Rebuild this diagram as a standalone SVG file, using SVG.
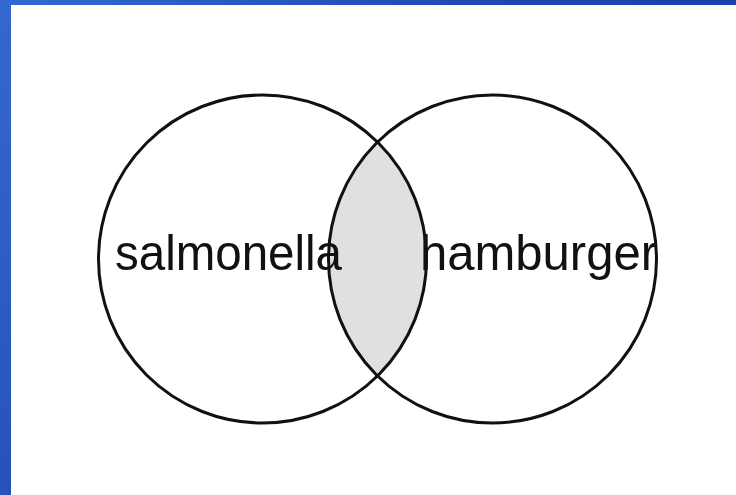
<svg xmlns="http://www.w3.org/2000/svg" width="736" height="495" viewBox="0 0 736 495">
<defs>
<linearGradient id="bg" gradientUnits="userSpaceOnUse" x1="0" y1="0" x2="736" y2="495">
<stop offset="0" stop-color="#3569cf"/>
<stop offset="0.5" stop-color="#1d44b2"/>
<stop offset="1" stop-color="#1a3aa8"/>
</linearGradient>
<clipPath id="clipL"><circle cx="262.5" cy="259" r="164"/></clipPath>
</defs>
<style>
.ring{fill:none;stroke:#111;stroke-width:3}
.lbl{font-family:"Liberation Sans",Arial,sans-serif;font-size:50px;fill:#111}
</style>
<rect x="0" y="0" width="736" height="495" fill="url(#bg)"/>
<rect x="11" y="5" width="725" height="490" fill="#fff"/>
<g id="intersection">
<circle cx="492.5" cy="259" r="164" fill="#e0e0e0" clip-path="url(#clipL)"/>
</g>
<g id="salmonella">
<circle class="ring" cx="262.5" cy="259" r="164"/>
<text class="lbl" x="115" y="270" textLength="227" lengthAdjust="spacingAndGlyphs">salmonella</text>
</g>
<g id="hamburger">
<circle class="ring" cx="492.5" cy="259" r="164"/>
<text class="lbl" x="420" y="270" textLength="237" lengthAdjust="spacingAndGlyphs">hamburger</text>
</g>
<g id="connectors"/>
</svg>
